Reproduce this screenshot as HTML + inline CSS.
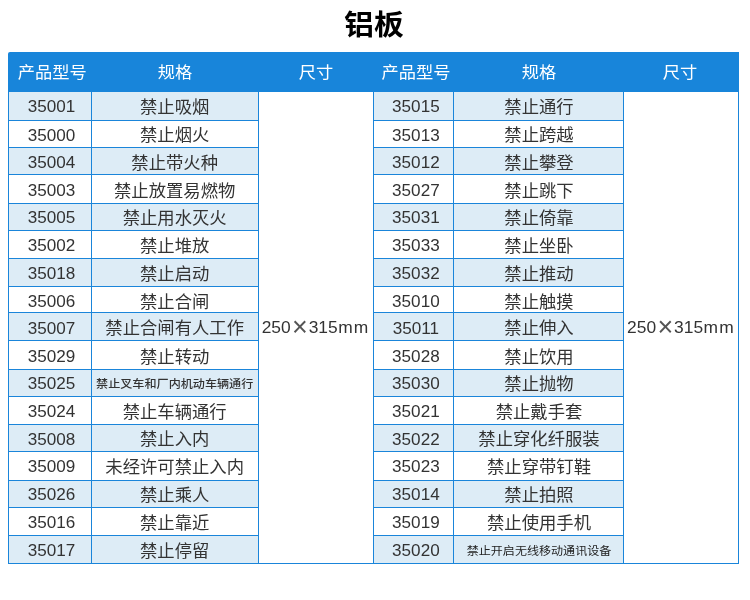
<!DOCTYPE html>
<html lang="zh-CN"><head><meta charset="utf-8"><title>铝板</title>
<style>
html,body{margin:0;padding:0;background:#fff;}
body{width:750px;height:600px;position:relative;overflow:hidden;font-family:"Liberation Sans","Noto Sans CJK SC",sans-serif;color:#333;}
h1{position:absolute;left:-1px;top:1.3px;width:750px;margin:0;text-align:center;font-size:29.7px;line-height:48px;font-weight:bold;color:#000;}
.hd{position:absolute;top:52px;height:40px;line-height:40px;color:#fff;font-size:17.25px;text-align:center;white-space:nowrap;}
.hbar{position:absolute;left:8px;top:52px;width:731px;height:40px;background:#1885da;border-radius:2px 0 0 0;}
.c{position:absolute;text-align:center;font-size:17.35px;white-space:nowrap;height:28px;line-height:28px;}
.s{font-size:12.1px;font-weight:500;}
.r{font-size:12.05px;font-weight:400;color:#222;}
.d{font-size:17.1px;}
.z{font-size:17.4px;}
.t,.hd,h1{transform:scaleY(0.955);}
.hd{transform:scaleY(0.955);}
.x{font-size:27px;line-height:0;position:relative;top:2.5px;margin:0 0.8px 0 1.4px;color:#555;}
.m{letter-spacing:1.2px;margin-left:0.5px;}
.alt{position:absolute;background:#ddecf6;}
.v{position:absolute;width:1px;background:#1a85da;}
.h{position:absolute;height:1px;background:#1a85da;}
</style></head><body>
<h1>铝板</h1>
<div class="hbar"></div>

<div class="hd" style="left:10.2px;top:52px;width:84px">产品型号</div>
<div class="hd" style="left:91px;top:52px;width:168px">规格</div>
<div class="hd" style="left:258px;top:52px;width:116px">尺寸</div>
<div class="hd" style="left:375.5px;top:52px;width:81px">产品型号</div>
<div class="hd" style="left:453.5px;top:52px;width:171px">规格</div>
<div class="hd" style="left:622px;top:52px;width:116px">尺寸</div>
<div class="alt" style="left:8px;top:92px;width:250px;height:28px"></div>
<div class="alt" style="left:373px;top:92px;width:250px;height:28px"></div>
<div class="alt" style="left:8px;top:147px;width:250px;height:27px"></div>
<div class="alt" style="left:373px;top:147px;width:250px;height:27px"></div>
<div class="alt" style="left:8px;top:203px;width:250px;height:27px"></div>
<div class="alt" style="left:373px;top:203px;width:250px;height:27px"></div>
<div class="alt" style="left:8px;top:258px;width:250px;height:28px"></div>
<div class="alt" style="left:373px;top:258px;width:250px;height:28px"></div>
<div class="alt" style="left:8px;top:312px;width:250px;height:28px"></div>
<div class="alt" style="left:373px;top:312px;width:250px;height:28px"></div>
<div class="alt" style="left:8px;top:369px;width:250px;height:27px"></div>
<div class="alt" style="left:373px;top:369px;width:250px;height:27px"></div>
<div class="alt" style="left:8px;top:424px;width:250px;height:27px"></div>
<div class="alt" style="left:373px;top:424px;width:250px;height:27px"></div>
<div class="alt" style="left:8px;top:480px;width:250px;height:27px"></div>
<div class="alt" style="left:373px;top:480px;width:250px;height:27px"></div>
<div class="alt" style="left:8px;top:535px;width:250px;height:28px"></div>
<div class="alt" style="left:373px;top:535px;width:250px;height:28px"></div>
<div class="c d" style="left:9.6px;top:93px;width:84px">35001</div>
<div class="c t" style="left:90.7px;top:93px;width:168px">禁止吸烟</div>
<div class="c d" style="left:375.4px;top:93px;width:81px">35015</div>
<div class="c t" style="left:453.5px;top:93px;width:171px">禁止通行</div>
<div class="c d" style="left:9.6px;top:122px;width:84px">35000</div>
<div class="c t" style="left:90.7px;top:121px;width:168px">禁止烟火</div>
<div class="c d" style="left:375.4px;top:122px;width:81px">35013</div>
<div class="c t" style="left:453.5px;top:121px;width:171px">禁止跨越</div>
<div class="c d" style="left:9.6px;top:149px;width:84px">35004</div>
<div class="c t" style="left:90.7px;top:149px;width:168px">禁止带火种</div>
<div class="c d" style="left:375.4px;top:149px;width:81px">35012</div>
<div class="c t" style="left:453.5px;top:149px;width:171px">禁止攀登</div>
<div class="c d" style="left:9.6px;top:177px;width:84px">35003</div>
<div class="c t" style="left:90.7px;top:177px;width:168px">禁止放置易燃物</div>
<div class="c d" style="left:375.4px;top:177px;width:81px">35027</div>
<div class="c t" style="left:453.5px;top:177px;width:171px">禁止跳下</div>
<div class="c d" style="left:9.6px;top:204px;width:84px">35005</div>
<div class="c t" style="left:90.7px;top:204px;width:168px">禁止用水灭火</div>
<div class="c d" style="left:375.4px;top:204px;width:81px">35031</div>
<div class="c t" style="left:453.5px;top:204px;width:171px">禁止倚靠</div>
<div class="c d" style="left:9.6px;top:232px;width:84px">35002</div>
<div class="c t" style="left:90.7px;top:232px;width:168px">禁止堆放</div>
<div class="c d" style="left:375.4px;top:232px;width:81px">35033</div>
<div class="c t" style="left:453.5px;top:232px;width:171px">禁止坐卧</div>
<div class="c d" style="left:9.6px;top:260px;width:84px">35018</div>
<div class="c t" style="left:90.7px;top:260px;width:168px">禁止启动</div>
<div class="c d" style="left:375.4px;top:260px;width:81px">35032</div>
<div class="c t" style="left:453.5px;top:260px;width:171px">禁止推动</div>
<div class="c d" style="left:9.6px;top:288px;width:84px">35006</div>
<div class="c t" style="left:90.7px;top:288px;width:168px">禁止合闸</div>
<div class="c d" style="left:375.4px;top:288px;width:81px">35010</div>
<div class="c t" style="left:453.5px;top:288px;width:171px">禁止触摸</div>
<div class="c d" style="left:9.6px;top:315px;width:84px">35007</div>
<div class="c t" style="left:90.7px;top:314px;width:168px">禁止合闸有人工作</div>
<div class="c d" style="left:375.4px;top:315px;width:81px">35011</div>
<div class="c t" style="left:453.5px;top:314px;width:171px">禁止伸入</div>
<div class="c d" style="left:9.6px;top:343px;width:84px">35029</div>
<div class="c t" style="left:90.7px;top:343px;width:168px">禁止转动</div>
<div class="c d" style="left:375.4px;top:343px;width:81px">35028</div>
<div class="c t" style="left:453.5px;top:343px;width:171px">禁止饮用</div>
<div class="c d" style="left:9.6px;top:370px;width:84px">35025</div>
<div class="c t s" style="left:90.7px;top:370px;width:168px">禁止叉车和厂内机动车辆通行</div>
<div class="c d" style="left:375.4px;top:370px;width:81px">35030</div>
<div class="c t" style="left:453.5px;top:370px;width:171px">禁止抛物</div>
<div class="c d" style="left:9.6px;top:398px;width:84px">35024</div>
<div class="c t" style="left:90.7px;top:398px;width:168px">禁止车辆通行</div>
<div class="c d" style="left:375.4px;top:398px;width:81px">35021</div>
<div class="c t" style="left:453.5px;top:398px;width:171px">禁止戴手套</div>
<div class="c d" style="left:9.6px;top:426px;width:84px">35008</div>
<div class="c t" style="left:90.7px;top:425px;width:168px">禁止入内</div>
<div class="c d" style="left:375.4px;top:426px;width:81px">35022</div>
<div class="c t" style="left:453.5px;top:425px;width:171px">禁止穿化纤服装</div>
<div class="c d" style="left:9.6px;top:453px;width:84px">35009</div>
<div class="c t" style="left:90.7px;top:453px;width:168px">未经许可禁止入内</div>
<div class="c d" style="left:375.4px;top:453px;width:81px">35023</div>
<div class="c t" style="left:453.5px;top:453px;width:171px">禁止穿带钉鞋</div>
<div class="c d" style="left:9.6px;top:481px;width:84px">35026</div>
<div class="c t" style="left:90.7px;top:481px;width:168px">禁止乘人</div>
<div class="c d" style="left:375.4px;top:481px;width:81px">35014</div>
<div class="c t" style="left:453.5px;top:481px;width:171px">禁止拍照</div>
<div class="c d" style="left:9.6px;top:509px;width:84px">35016</div>
<div class="c t" style="left:90.7px;top:509px;width:168px">禁止靠近</div>
<div class="c d" style="left:375.4px;top:509px;width:81px">35019</div>
<div class="c t" style="left:453.5px;top:509px;width:171px">禁止使用手机</div>
<div class="c d" style="left:9.6px;top:537px;width:84px">35017</div>
<div class="c t" style="left:90.7px;top:537px;width:168px">禁止停留</div>
<div class="c d" style="left:375.4px;top:537px;width:81px">35020</div>
<div class="c t s r" style="left:453.5px;top:537px;width:171px">禁止开启无线移动通讯设备</div>
<div class="c z" style="left:257.6px;top:313px;width:116px">250<span class="x">×</span>315<span class="m">mm</span></div>
<div class="c z" style="left:623px;top:313px;width:116px">250<span class="x">×</span>315<span class="m">mm</span></div>
<div class="v" style="left:8px;top:92px;height:472px"></div>
<div class="v" style="left:91px;top:92px;height:472px"></div>
<div class="v" style="left:258px;top:92px;height:472px"></div>
<div class="v" style="left:373px;top:92px;height:472px"></div>
<div class="v" style="left:453px;top:92px;height:472px"></div>
<div class="v" style="left:623px;top:92px;height:472px"></div>
<div class="v" style="left:738px;top:92px;height:472px"></div>
<div class="h" style="left:8px;top:120px;width:250px"></div>
<div class="h" style="left:373px;top:120px;width:250px"></div>
<div class="h" style="left:8px;top:147px;width:250px"></div>
<div class="h" style="left:373px;top:147px;width:250px"></div>
<div class="h" style="left:8px;top:174px;width:250px"></div>
<div class="h" style="left:373px;top:174px;width:250px"></div>
<div class="h" style="left:8px;top:203px;width:250px"></div>
<div class="h" style="left:373px;top:203px;width:250px"></div>
<div class="h" style="left:8px;top:230px;width:250px"></div>
<div class="h" style="left:373px;top:230px;width:250px"></div>
<div class="h" style="left:8px;top:258px;width:250px"></div>
<div class="h" style="left:373px;top:258px;width:250px"></div>
<div class="h" style="left:8px;top:286px;width:250px"></div>
<div class="h" style="left:373px;top:286px;width:250px"></div>
<div class="h" style="left:8px;top:312px;width:250px"></div>
<div class="h" style="left:373px;top:312px;width:250px"></div>
<div class="h" style="left:8px;top:340px;width:250px"></div>
<div class="h" style="left:373px;top:340px;width:250px"></div>
<div class="h" style="left:8px;top:369px;width:250px"></div>
<div class="h" style="left:373px;top:369px;width:250px"></div>
<div class="h" style="left:8px;top:396px;width:250px"></div>
<div class="h" style="left:373px;top:396px;width:250px"></div>
<div class="h" style="left:8px;top:424px;width:250px"></div>
<div class="h" style="left:373px;top:424px;width:250px"></div>
<div class="h" style="left:8px;top:451px;width:250px"></div>
<div class="h" style="left:373px;top:451px;width:250px"></div>
<div class="h" style="left:8px;top:480px;width:250px"></div>
<div class="h" style="left:373px;top:480px;width:250px"></div>
<div class="h" style="left:8px;top:507px;width:250px"></div>
<div class="h" style="left:373px;top:507px;width:250px"></div>
<div class="h" style="left:8px;top:535px;width:250px"></div>
<div class="h" style="left:373px;top:535px;width:250px"></div>
<div class="h" style="left:8px;top:563px;width:731px"></div>
</body></html>
